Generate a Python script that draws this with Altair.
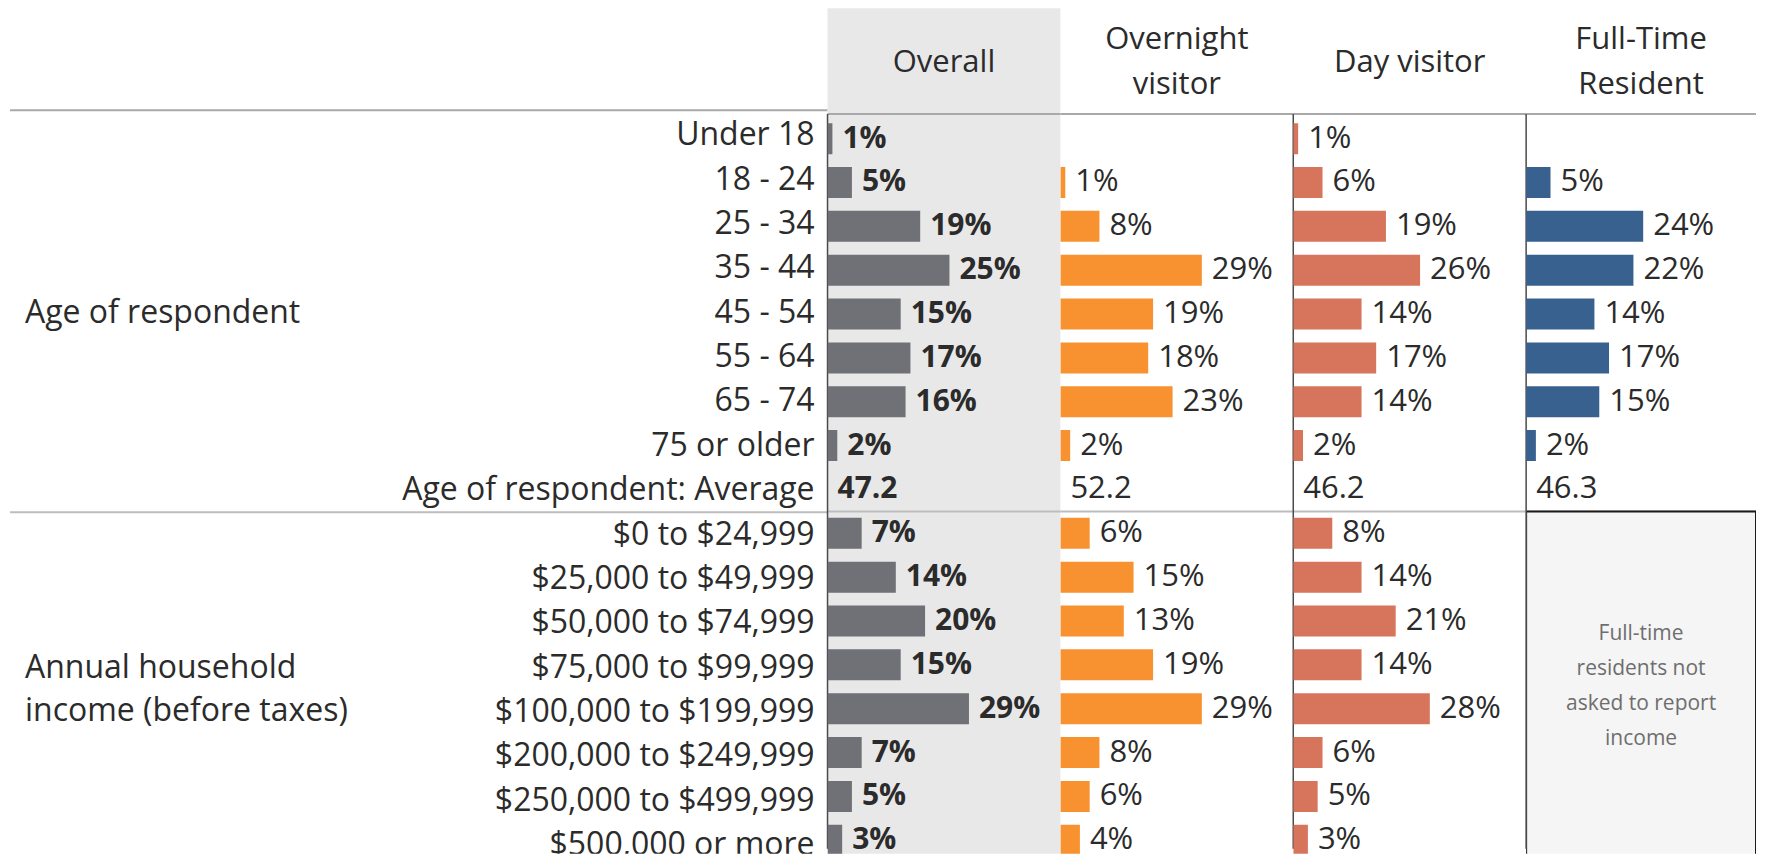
import altair as alt
import pandas as pd

# ---------------- data ----------------
age_rows = ["Under 18", "18 - 24", "25 - 34", "35 - 44", "45 - 54",
            "55 - 64", "65 - 74", "75 or older"]
avg_row = "Age of respondent: Average"
income_rows = ["$0 to $24,999", "$25,000 to $49,999", "$50,000 to $74,999",
               "$75,000 to $99,999", "$100,000 to $199,999",
               "$200,000 to $249,999", "$250,000 to $499,999",
               "$500,000 or more"]
group_labels = ["Age of respondent", "Annual household\nincome (before taxes)"]

headers = ["Overall", "Overnight\nvisitor", "Day visitor", "Full-Time\nResident"]
colors = ["#6f7177", "#f8912f", "#d6755b", "#38618f"]

overall_age = [1, 5, 19, 25, 15, 17, 16, 2]
overnight_age = [None, 1, 8, 29, 19, 18, 23, 2]
day_age = [1, 6, 19, 26, 14, 17, 14, 2]
fulltime_age = [None, 5, 24, 22, 14, 17, 15, 2]

averages = [47.2, 52.2, 46.2, 46.3]

overall_income = [7, 14, 20, 15, 29, 7, 5, 3]
overnight_income = [6, 15, 13, 19, 29, 8, 6, 4]
day_income = [8, 14, 21, 14, 28, 6, 5, 3]
fulltime_income = [None] * 8
fulltime_note = "Full-time\nresidents not\nasked to report\nincome"

# ---------------- layout / style ----------------
FONT = "Open Sans"
TEXT = "#2b2b2b"
FS = 31
FS_ROW = 32
PX = 4.88           # pixels per percentage point
ROW = 44.4          # row pitch in px
CHART_H = 846
Y_TOP = -2.86                      # row units at the very top of the panels
Y_BOT = Y_TOP + CHART_H / ROW
HEAD_LINE = Y_TOP + 102 / ROW      # header bottom line
HEAD_Y = Y_TOP + 50 / ROW          # header text centre
HEAD_LH = 45
LABEL_W = 820
COL_W = [233, 233, 233, 230]
GRAY_BG = "#e8e8e8"

all_rows = age_rows + [avg_row] + income_rows
pos_of = {r: i for i, r in enumerate(all_rows)}
sep_pos = len(age_rows) + 0.5
end_pos = len(all_rows) - 0.5


def yscale():
    return alt.Scale(domain=[Y_TOP, Y_BOT], reverse=True, nice=False, zero=False)


def ydat(field):
    return alt.Y(field, scale=yscale(), axis=None)


seg_age = [overall_age, overnight_age, day_age, fulltime_age]
seg_inc = [overall_income, overnight_income, day_income, fulltime_income]


def column_panel(k):
    w = COL_W[k]
    xs = alt.Scale(domain=[0, w / PX], nice=False, zero=False)
    bar_recs, txt_recs = [], []
    for rows, vals in ((age_rows, seg_age[k]), (income_rows, seg_inc[k])):
        for r, v in zip(rows, vals):
            if v is None:
                continue
            bar_recs.append({"pos": pos_of[r], "value": v})
            txt_recs.append({"pos": pos_of[r], "value": v, "label": f"{v}%"})
    txt_recs.append({"pos": pos_of[avg_row], "value": 0, "label": f"{averages[k]:.1f}"})
    bars_df = pd.DataFrame(bar_recs)
    txt_df = pd.DataFrame(txt_recs)

    X = alt.X("value:Q", scale=xs, axis=None)
    Y = ydat("pos:Q")

    layers = []
    # header text
    n_lines = headers[k].count("\n") + 1
    hdf = pd.DataFrame({"h": [headers[k]], "hx": [w / PX / 2], "hy": [HEAD_Y]})
    layers.append(alt.Chart(hdf).mark_text(
        font=FONT, fontSize=FS, color=TEXT, align="center", baseline="middle",
        lineBreak="\n", lineHeight=HEAD_LH, dy=-(n_lines - 1) * HEAD_LH / 2).encode(
        x=alt.X("hx:Q", scale=xs, axis=None), y=ydat("hy:Q"), text="h:N"))
    # header bottom line and group separator
    layers.append(alt.Chart(pd.DataFrame({"b": [HEAD_LINE]})).mark_rule(
        color="#a9a9a9", strokeWidth=2).encode(y=ydat("b:Q")))
    layers.append(alt.Chart(pd.DataFrame({"b": [sep_pos]})).mark_rule(
        color="#bdbdbd", strokeWidth=2).encode(y=ydat("b:Q")))
    if k == 3:
        box = pd.DataFrame({"x0": [0], "x1": [w / PX], "y0": [sep_pos], "y1": [end_pos + 1]})
        layers.append(alt.Chart(box).mark_rect(
            fill="#f5f5f5", stroke="#1a1a1a", strokeWidth=2, clip=True).encode(
            x=alt.X("x0:Q", scale=xs, axis=None), x2="x1:Q",
            y=ydat("y0:Q"), y2="y1:Q"))
        n_note = fulltime_note.count("\n") + 1
        note = pd.DataFrame({"xc": [w / PX / 2], "yc": [(sep_pos + end_pos) / 2],
                             "t": [fulltime_note]})
        layers.append(alt.Chart(note).mark_text(
            font=FONT, fontSize=21, color="#6e6e6e", align="center", baseline="middle",
            lineBreak="\n", lineHeight=35, dy=-(n_note - 1) * 35 / 2).encode(
            x=alt.X("xc:Q", scale=xs, axis=None), y=ydat("yc:Q"), text="t:N"))
    if k != 1:
        zdf = pd.DataFrame({"z": [0], "y0": [HEAD_LINE], "y1": [Y_BOT]})
        layers.append(alt.Chart(zdf).mark_rule(
            color="#4a4a4a", strokeWidth=1.5).encode(
            x=alt.X("z:Q", scale=xs, axis=None), y=ydat("y0:Q"), y2="y1:Q"))
    layers.append(alt.Chart(bars_df).mark_bar(
        orient="horizontal", size=31, color=colors[k], clip=True).encode(x=X, y=Y))
    layers.append(alt.Chart(txt_df).mark_text(
        align="left", baseline="middle", dx=10, font=FONT,
        fontSize=30 if k == 0 else FS,
        fontWeight="bold" if k == 0 else "normal", color=TEXT, clip=True).encode(
        x=X, y=Y, text="label:N"))
    ch = alt.layer(*layers).properties(width=w, height=CHART_H)
    if k == 0:
        ch = ch.properties(view=alt.ViewBackground(fill=GRAY_BG, strokeWidth=0))
    return ch


def label_panel():
    rows_df = pd.DataFrame({"pos": list(range(len(all_rows))), "row": all_rows})
    grp_df = pd.DataFrame({
        "g": group_labels,
        "gpos": [(0 + len(age_rows)) / 2, (len(age_rows) + 1 + len(all_rows) - 1) / 2],
        "n": [g.count("\n") + 1 for g in group_labels],
    })
    lines = alt.Chart(pd.DataFrame({"b": [HEAD_LINE, sep_pos],
                                    "c": ["#a9a9a9", "#bdbdbd"]})).mark_rule(strokeWidth=2).encode(
        y=ydat("b:Q"), x=alt.value(2), x2=alt.value(LABEL_W),
        color=alt.Color("c:N", scale=None))
    rlab = alt.Chart(rows_df).mark_text(
        align="right", baseline="middle", font=FONT, fontSize=FS_ROW, color=TEXT,
        clip=True).encode(x=alt.value(LABEL_W - 13), y=ydat("pos:Q"), text="row:N")
    layers = [lines, rlab]
    for _, g in grp_df.iterrows():
        layers.append(alt.Chart(pd.DataFrame([g])).mark_text(
            align="left", baseline="middle", font=FONT, fontSize=FS_ROW, color=TEXT,
            lineBreak="\n", lineHeight=43, dy=-(g["n"] - 1) * 43 / 2).encode(
            x=alt.value(17), y=ydat("gpos:Q"), text="g:N"))
    return alt.layer(*layers).properties(width=LABEL_W, height=CHART_H)


chart = alt.hconcat(label_panel(), *[column_panel(k) for k in range(4)],
                    spacing=0, bounds="flush").properties(
    padding=0, background="white").configure_view(strokeWidth=0)

chart.save("out.html", embed_options={"renderer": "svg", "actions": False})
